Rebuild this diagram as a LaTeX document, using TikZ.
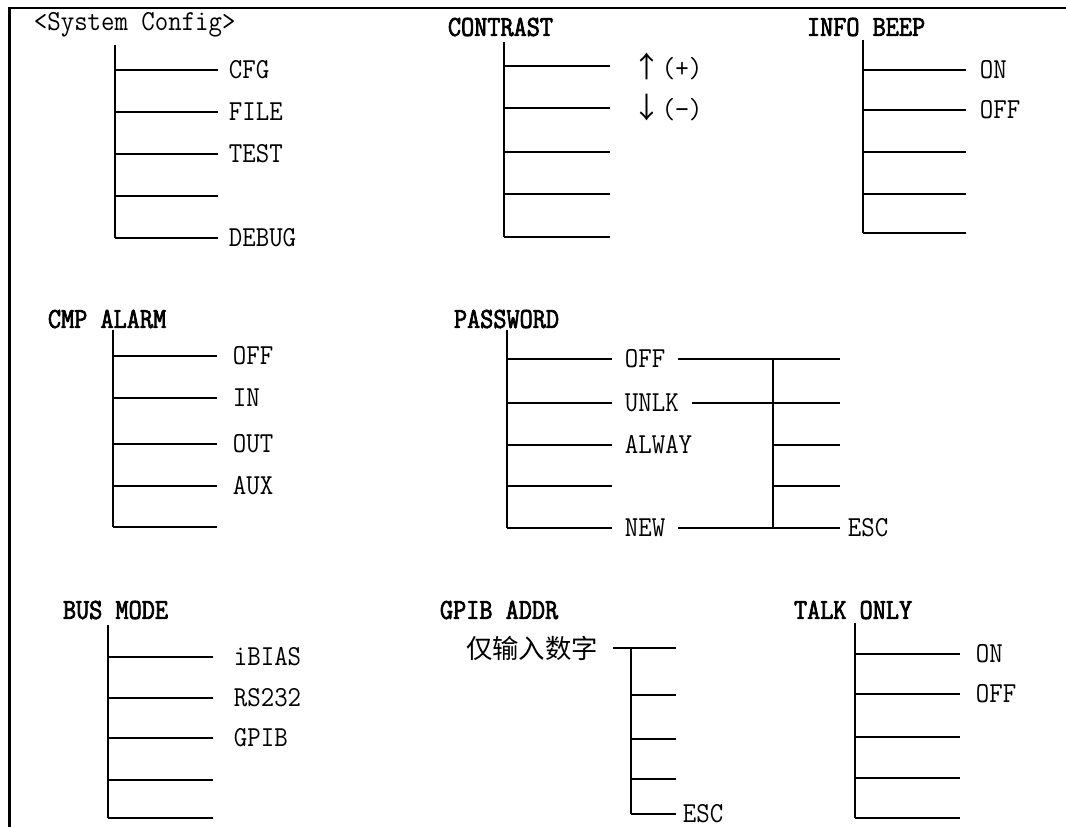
\documentclass[tikz,border=0pt]{standalone}
\usepackage{fontspec}
\setmainfont{Latin Modern Mono}[FakeStretch=0.9]
\newfontfamily\ttlfont{Latin Modern Mono}[FakeBold=2.5,FakeStretch=0.88]
\newfontfamily\cjk{Noto Sans CJK SC}
\usepackage{tikz}

\begin{document}
\begin{tikzpicture}[x=0.02cm,y=-0.02cm,line width=1.1pt,
	ttl/.style={anchor=west,inner sep=0pt,font=\fontsize{16.5}{18}\selectfont\ttlfont},
	lbl/.style={anchor=west,inner ysep=0pt,font=\fontsize{16.5}{18}\selectfont}]
	\useasboundingbox (0,0) rectangle (1066,827);
	\draw[line width=1.4pt] (9.5,827) -- (9.5,8) -- (1066,8);
	
	% System Config
	\node[ttl,font=\fontsize{16.5}{18}\selectfont] (sys) at (33,25) {<System Config>};
	\coordinate (sys0) at (115,45);
	\foreach \y/\lab [count=\n] in {70/CFG,112/FILE,154/TEST,196/{},238/DEBUG}{
		\coordinate (sysj\n) at (115,\y);
		\node[lbl,inner xsep=0.2cm] (sys\n) at (218,\y) {\lab};
		\draw (sysj\n) -- (sys\n.west);
	}
	\draw (sys0) -- (sysj5);
	
	% CONTRAST
	\node[ttl] (con) at (447,27) {CONTRAST};
	\coordinate (con0) at (504,42);
	\foreach \y/\lab [count=\n] in {66/{{\cjk ↑}(+)},108/{{\cjk ↓}(−)},152/{},194/{},237/{}}{
		\coordinate (conj\n) at (504,\y);
		\node[lbl,inner xsep=0.44cm] (con\n) at (610,\y) {\lab};
		\draw (conj\n) -- (con\n.west);
	}
	\draw (con0) -- (conj5);
	
	% INFO BEEP
	\node[ttl] (inf) at (806,27) {INFO BEEP};
	\coordinate (inf0) at (863,40);
	\foreach \y/\lab [count=\n] in {70/ON,110/OFF,152/{},194/{},233/{}}{
		\coordinate (infj\n) at (863,\y);
		\node[lbl,inner xsep=0.26cm] (inf\n) at (966,\y) {\lab};
		\draw (infj\n) -- (inf\n.west);
	}
	\draw (inf0) -- (infj5);
	
	% CMP ALARM
	\node[ttl] (cmp) at (47,319) {CMP ALARM};
	\coordinate (cmp0) at (113,330);
	\foreach \y/\lab [count=\n] in {356/OFF,398/IN,444/OUT,486/AUX,527/{}}{
		\coordinate (cmpj\n) at (113,\y);
		\node[lbl,inner xsep=0.3cm] (cmp\n) at (217,\y) {\lab};
		\draw (cmpj\n) -- (cmp\n.west);
	}
	\draw (cmp0) -- (cmpj5);
	
	% PASSWORD
	\node[ttl] (pw) at (453,319) {PASSWORD};
	\coordinate (pw0) at (507,330);
	\foreach \y/\lab [count=\n] in {359/OFF,403/UNLK,445/ALWAY,486/{},528/NEW}{
		\coordinate (pwj\n) at (507,\y);
		\node[lbl,inner xsep=0.24cm] (pw\n) at (612,\y) {\lab};
		\draw (pwj\n) -- (pw\n.west);
		\coordinate (pwk\n) at (773,\y);
		\coordinate (pwe\n) at (840,\y);
	}
	\draw (pw0) -- (pwj5);
	\node[lbl,inner xsep=0.14cm] (esc1) at (840,528) {ESC};
	\foreach \n in {1,2,3,4}
		\draw (pwk\n) -- (pwe\n);
	\draw (pwk5) -- (esc1.west);
	\foreach \n in {1,2,5}
		\draw (pw\n.east) -- (pwk\n);
	\draw (pwk1) -- (pwk5);
	
	% BUS MODE
	\node[ttl] (bus) at (62,610) {BUS MODE};
	\coordinate (bus0) at (108,625);
	\foreach \y/\lab [count=\n] in {657/iBIAS,698/RS232,738/GPIB,780/{},818/{}}{
		\coordinate (busj\n) at (108,\y);
		\node[lbl,inner xsep=0.4cm] (bus\n) at (213,\y) {\lab};
		\draw (busj\n) -- (bus\n.west);
	}
	\draw (bus0) -- (busj5);
	
	% GPIB ADDR
	\node[ttl] (gp) at (439,610) {GPIB ADDR};
	\node[anchor=east,inner ysep=0pt,inner xsep=0.28cm,font=\fontsize{15}{18}\selectfont\cjk] (gp0) at (613,648) {仅输入数字};
	\coordinate (gpk1) at (631,648);
	\coordinate (gpe1) at (676,648);
	\draw (gp0.east) -- (gpe1);
	\foreach \y/\n in {695/2,739/3,779/4}{
		\coordinate (gpk\n) at (631,\y);
		\coordinate (gpe\n) at (676,\y);
		\draw (gpk\n) -- (gpe\n);
	}
	\coordinate (gpk5) at (631,814);
	\node[lbl,inner xsep=0.12cm] (esc2) at (676,814) {ESC};
	\draw (gpk5) -- (esc2.west);
	\draw (gpk1) -- (gpk5);
	
	% TALK ONLY
	\node[ttl] (tlk) at (793,610) {TALK ONLY};
	\coordinate (tlk0) at (855,623);
	\foreach \y/\lab [count=\n] in {654/ON,694/OFF,737/{},778/{},818/{}}{
		\coordinate (tlkj\n) at (855,\y);
		\node[lbl,inner xsep=0.3cm] (tlk\n) at (960,\y) {\lab};
		\draw (tlkj\n) -- (tlk\n.west);
	}
	\draw (tlk0) -- (tlkj5);
\end{tikzpicture}
\end{document}
